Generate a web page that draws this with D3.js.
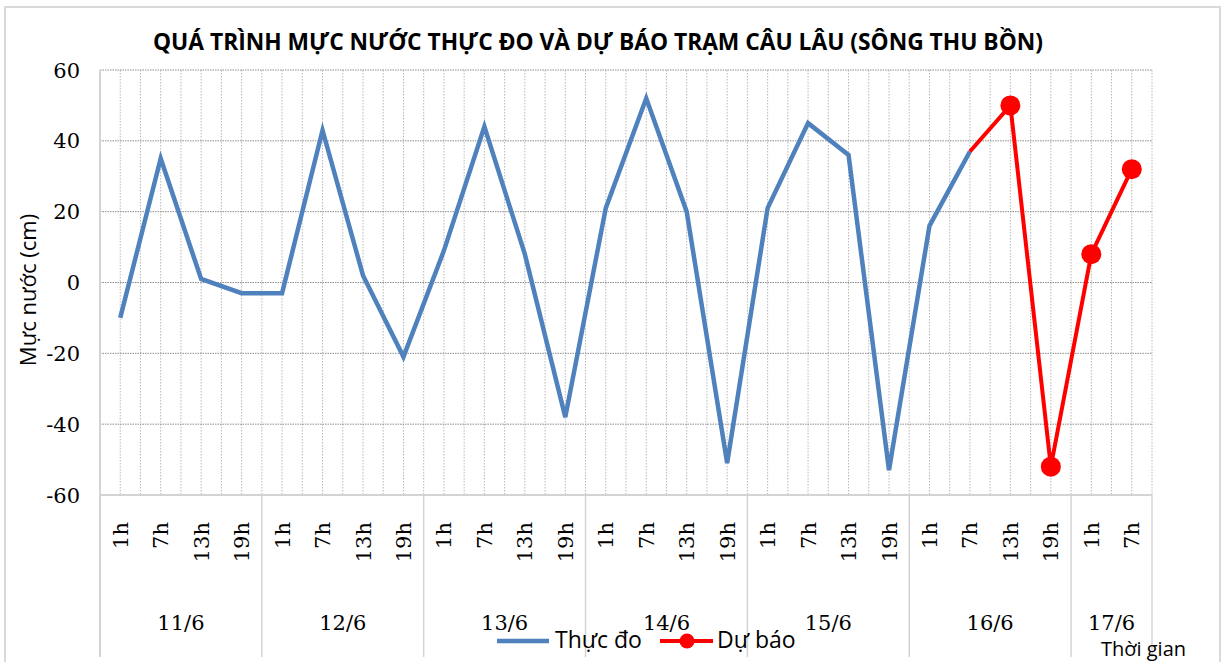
<!DOCTYPE html>
<html>
<head>
<meta charset="utf-8">
<script src="https://cdn.jsdelivr.net/npm/d3@7"></script>
<style>
  body { margin: 0; background: #fff; }
  svg { display: block; }
</style>
</head>
<body>
<svg id="chart" width="1224" height="662"></svg>
<script>
const days = ["11/6", "12/6", "13/6", "14/6", "15/6", "16/6", "17/6"];
const hours = ["1h", "7h", "13h", "19h"];
// (day, hour) pairs along the category axis, last day only has 1h and 7h
const categories = [];
days.forEach((d, di) => {
  const hs = di === days.length - 1 ? hours.slice(0, 2) : hours;
  hs.forEach((h) => categories.push({ day: d, hour: h }));
});

const observed = [
  -10, 35, 1, -3,
  -3, 43, 2, -21,
  9, 44, 8, -38,
  21, 52, 20, -51,
  21, 45, 36, -53,
  16, 37, null, null,
  null, null,
];
const forecast = [
  null, null, null, null,
  null, null, null, null,
  null, null, null, null,
  null, null, null, null,
  null, null, null, null,
  null, 37, 50, -52,
  8, 32,
];
const yTicks = [-60, -40, -20, 0, 20, 40, 60];

const width = 1224;
const height = 662;
const margin = { top: 70, right: 72, bottom: 167, left: 100 };

const serif = "'DejaVu Serif', serif";
const sans = "'Open Sans', sans-serif";

const svg = d3.select("#chart");

// outer chart frame
svg.append("rect")
  .attr("x", 5).attr("y", 7)
  .attr("width", 1215).attr("height", 660)
  .attr("fill", "#fff")
  .attr("stroke", "#d9d9d9")
  .attr("stroke-width", 2);

const x = d3.scaleBand()
  .domain(d3.range(categories.length))
  .range([margin.left, width - margin.right])
  .paddingInner(0).paddingOuter(0);
const bw = x.bandwidth();
const cx = (i) => x(i) + bw / 2;

const y = d3.scaleLinear()
  .domain([-60, 60])
  .range([height - margin.bottom, margin.top]);

const x0 = margin.left, x1 = width - margin.right;
const yTop = margin.top, yBot = height - margin.bottom;

// grid
const grid = svg.append("g").attr("class", "grid");
const vlines = [];
categories.forEach((c, i) => {
  if (i > 0) vlines.push(x(i));
  vlines.push(cx(i));
});
vlines.push(x1);
grid.selectAll("line.v")
  .data(vlines)
  .join("line")
  .attr("class", "v")
  .attr("x1", (d) => d).attr("x2", (d) => d)
  .attr("y1", yTop).attr("y2", yBot)
  .attr("stroke", "#b8b8b8")
  .attr("stroke-width", 1)
  .attr("stroke-dasharray", "1.5,1.5");
grid.selectAll("line.h")
  .data(yTicks.filter((d) => d > -60))
  .join("line")
  .attr("class", "h")
  .attr("x1", x0).attr("x2", x1)
  .attr("y1", (d) => y(d)).attr("y2", (d) => y(d))
  .attr("stroke", "#8c8c8c")
  .attr("stroke-width", 1)
  .attr("stroke-dasharray", "1.5,1");

// axis lines
const axisCol = "#d4d4d4";
svg.append("line")
  .attr("x1", x0).attr("x2", x1)
  .attr("y1", yBot).attr("y2", yBot)
  .attr("stroke", axisCol).attr("stroke-width", 2);
svg.append("line")
  .attr("x1", x0).attr("x2", x0)
  .attr("y1", yTop).attr("y2", 657)
  .attr("stroke", axisCol).attr("stroke-width", 2);

// day separators in the category axis
const dayStarts = [];
categories.forEach((c, i) => {
  if (i === 0 || categories[i - 1].day !== c.day) dayStarts.push(i);
});
svg.selectAll("line.sep")
  .data(dayStarts.slice(1).map((i) => x(i)).concat([x1]))
  .join("line")
  .attr("class", "sep")
  .attr("x1", (d) => d).attr("x2", (d) => d)
  .attr("y1", yBot).attr("y2", 657)
  .attr("stroke", axisCol).attr("stroke-width", 1.5);

// y tick labels
svg.append("g")
  .selectAll("text")
  .data(yTicks)
  .join("text")
  .attr("x", 80)
  .attr("y", (d) => y(d))
  .attr("dy", "0.36em")
  .attr("text-anchor", "end")
  .attr("font-family", serif)
  .attr("font-size", 21)
  .attr("fill", "#000")
  .text((d) => d);

// hour labels (rotated)
svg.append("g")
  .selectAll("text")
  .data(categories)
  .join("text")
  .attr("transform", (d, i) => `translate(${cx(i)},${yBot + 27}) rotate(-90)`)
  .attr("dy", "0.36em")
  .attr("text-anchor", "end")
  .attr("font-family", serif)
  .attr("font-size", 21)
  .attr("fill", "#000")
  .text((d) => d.hour);

// day labels
svg.append("g")
  .selectAll("text")
  .data(dayStarts)
  .join("text")
  .attr("x", (s, k) => {
    const e = k + 1 < dayStarts.length ? x(dayStarts[k + 1]) : x1;
    return (x(s) + e) / 2;
  })
  .attr("y", 630)
  .attr("text-anchor", "middle")
  .attr("font-family", serif)
  .attr("font-size", 21)
  .attr("fill", "#000")
  .text((s) => categories[s].day);

// lines
const line = d3.line()
  .defined((d) => d != null)
  .x((d, i) => cx(i))
  .y((d) => y(d));

svg.append("path")
  .datum(observed)
  .attr("fill", "none")
  .attr("stroke", "#4f81bd")
  .attr("stroke-width", 4.5)
  .attr("stroke-linejoin", "miter")
  .attr("d", line);

svg.append("path")
  .datum(forecast)
  .attr("fill", "none")
  .attr("stroke", "#ff0000")
  .attr("stroke-width", 4)
  .attr("d", line);

// forecast markers (not on the shared start point)
const firstF = forecast.findIndex((d) => d != null);
svg.append("g")
  .selectAll("circle")
  .data(forecast.map((v, i) => ({ v, i })).filter((d) => d.v != null && d.i > firstF))
  .join("circle")
  .attr("cx", (d) => cx(d.i))
  .attr("cy", (d) => y(d.v))
  .attr("r", 10)
  .attr("fill", "#ff0000");

// title
svg.append("text")
  .attr("x", 598)
  .attr("y", 50)
  .attr("text-anchor", "middle")
  .attr("font-family", sans)
  .attr("font-weight", "bold")
  .attr("font-size", 23)
  .attr("fill", "#000")
  .attr("textLength", 890)
  .attr("lengthAdjust", "spacingAndGlyphs")
  .text("QUÁ TRÌNH MỰC NƯỚC THỰC ĐO VÀ DỰ BÁO TRẠM CÂU LÂU (SÔNG THU BỒN)");

// y axis title
svg.append("text")
  .attr("transform", "translate(36,290) rotate(-90)")
  .attr("text-anchor", "middle")
  .attr("font-family", sans)
  .attr("font-size", 22)
  .attr("fill", "#000")
  .text("Mực nước (cm)");

// legend
const legend = svg.append("g");
legend.append("line")
  .attr("x1", 497).attr("x2", 549)
  .attr("y1", 641).attr("y2", 641)
  .attr("stroke", "#4f81bd").attr("stroke-width", 4.5);
legend.append("text")
  .attr("x", 555).attr("y", 648)
  .attr("font-family", sans).attr("font-size", 23)
  .attr("fill", "#000")
  .text("Thực đo");
legend.append("line")
  .attr("x1", 660).attr("x2", 713)
  .attr("y1", 641).attr("y2", 641)
  .attr("stroke", "#ff0000").attr("stroke-width", 4);
legend.append("circle")
  .attr("cx", 687).attr("cy", 641).attr("r", 7.5)
  .attr("fill", "#ff0000");
legend.append("text")
  .attr("x", 717).attr("y", 648)
  .attr("font-family", sans).attr("font-size", 23)
  .attr("fill", "#000")
  .text("Dự báo");

// x axis title
svg.append("text")
  .attr("x", 1101).attr("y", 656)
  .attr("font-family", sans).attr("font-size", 20)
  .attr("fill", "#000")
  .text("Thời gian");
</script>
</body>
</html>
